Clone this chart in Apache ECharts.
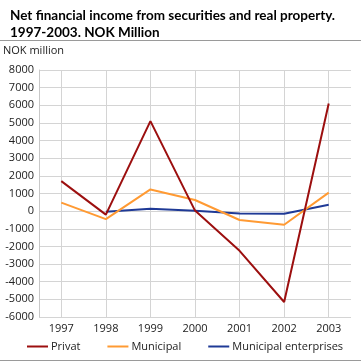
<!DOCTYPE html>
<html><head><meta charset="utf-8">
<script src="https://cdn.jsdelivr.net/npm/echarts@6/dist/echarts.min.js"></script>
<style>html,body{margin:0;padding:0;background:#fff}#c{width:361px;height:361px}</style>
</head><body><div id="c"></div>
<script>
const categories = ['1997','1998','1999','2000','2001','2002','2003'];
const privat = [1700, -200, 5100, 30, -2250, -5150, 6100];
const municipal = [480, -450, 1230, 630, -500, -770, 1050];
const enterprises = [null, -30, 140, 20, -130, -150, 360];
const seriesNames = ['Privat', 'Municipal', 'Municipal enterprises'];
const seriesColors = ['#9c0f0f', '#ff9a33', '#1f3a96'];
const yTicks = {min: -6000, max: 8000, interval: 1000};

const font = 'Open Sans';
const chart = echarts.init(document.getElementById('c'), null, {renderer: 'canvas'});
const values = [privat, municipal, enterprises];
chart.setOption({
  animation: false,
  textStyle: {fontFamily: font},
  title: {
    text: 'Net financial income from securities and real property.\n1997-2003. NOK Million',
    left: 5, top: 2,
    textStyle: {fontSize: 13.5, fontWeight: 'bold', color: '#000', lineHeight: 17, fontFamily: 'Lato'}
  },
  graphic: [
    {type: 'line', shape: {x1: 0, y1: 40.5, x2: 361, y2: 40.5}, style: {stroke: '#9a9a9a', lineWidth: 1}},
    {type: 'line', shape: {x1: 0, y1: 360.5, x2: 361, y2: 360.5}, style: {stroke: '#9a9a9a', lineWidth: 1}},
    {type: 'text', left: 3, top: 45, style: {text: 'NOK million', fontSize: 11, fill: '#222', fontFamily: font}}
  ],
  grid: {left: 39, right: 10, top: 70, bottom: 44, containLabel: false},
  legend: {
    bottom: 4, left: 22, itemGap: 27, itemWidth: 21, itemHeight: 2,
    icon: 'rect',
    textStyle: {fontSize: 11, color: '#222', fontFamily: font, padding: [0, 0, 0, -2]},
    data: seriesNames
  },
  xAxis: {
    type: 'category', data: categories, boundaryGap: true,
    axisLine: {show: false},
    axisTick: {show: false},
    axisLabel: {fontSize: 11, color: '#222', margin: 6},
    splitLine: {show: true, alignWithLabel: true, lineStyle: {color: '#d4d4d4', width: 1}}
  },
  yAxis: {
    type: 'value', min: yTicks.min, max: yTicks.max, interval: yTicks.interval,
    axisLine: {show: true, lineStyle: {color: '#c8c8c8'}},
    axisTick: {show: false},
    axisLabel: {fontSize: 11, color: '#222', margin: 5, formatter: v => String(v)},
    splitLine: {show: true, lineStyle: {color: '#d4d4d4', width: 1}}
  },
  series: seriesNames.map((n, i) => ({
    name: n, type: 'line', data: values[i], symbol: 'none', showSymbol: false,
    color: seriesColors[i],
    lineStyle: {width: 2, color: seriesColors[i]},
    z: 3 - i
  }))
});
</script></body></html>
